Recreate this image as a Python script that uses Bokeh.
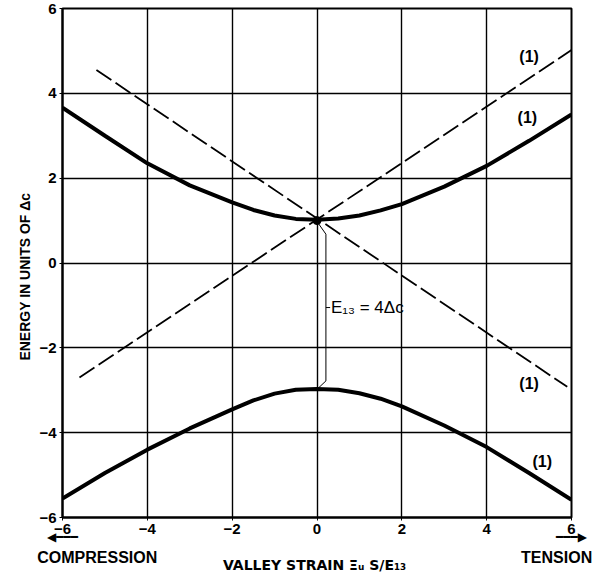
from bokeh.plotting import figure
from bokeh.models import Range1d, FixedTicker, Label, LinearAxis
from bokeh.embed import file_html
from bokeh.resources import INLINE

# ---- data ----
strain = [-6, -5, -4, -3, -2, -1.5, -1, -0.5, 0, 0.5, 1, 1.5, 2, 3, 4, 5, 6]
upper_level = [3.66, 3.0, 2.35, 1.83, 1.43, 1.25, 1.12, 1.04, 1.02, 1.05, 1.12, 1.24, 1.39, 1.80, 2.29, 2.88, 3.50]
lower_level = [-5.55, -4.95, -4.40, -3.90, -3.45, -3.24, -3.08, -2.99, -2.97, -2.99, -3.07, -3.20, -3.38, -3.83, -4.34, -4.95, -5.58]

falling_x = [-5.2, 5.9]
falling_y = [4.55, -2.92]
rising_x = [-5.6, 6.0]
rising_y = [-2.70, 5.02]

crossing_x = [0]
crossing_y = [1.0]

bracket_x = [0.02, 0.21, 0.21, 0.03]
bracket_y = [0.95, 0.68, -2.78, -2.95]
bracket_tick_x = [0.21, 0.31]
bracket_tick_y = [-1.05, -1.05]

tick_values = [-6, -4, -2, 0, 2, 4, 6]

mult_text = ["(1)", "(1)", "(1)", "(1)"]
mult_x = [5.0, 4.96, 5.0, 5.31]
mult_y = [4.88, 3.42, -2.85, -4.68]

arrow_pos = [-6.0, 6.0]
arrow_text = ["◀━━━", "━━━▶"]
caption_pos = [-5.18, 5.65]
caption_text = ["COMPRESSION", "TENSION"]
x_title = "VALLEY STRAIN  Ξᵤ S/E₁₃"
y_title = "ENERGY IN UNITS OF Δᴄ" + "\u00a0" * 7

FONT = "Liberation Sans"

p = figure(width=596, height=575, output_backend="svg", toolbar_location=None,
           x_range=Range1d(-6, 6), y_range=Range1d(-6, 6),
           min_border_left=62, min_border_right=25, min_border_top=8, min_border_bottom=10)

p.background_fill_color = "white"
p.border_fill_color = "white"
p.outline_line_color = "black"
p.outline_line_width = 2

for ax in (p.xaxis, p.yaxis):
    ax.ticker = FixedTicker(ticks=tick_values)
    ax.axis_line_color = "black"
    ax.axis_line_width = 2
    ax.major_tick_in = 0
    ax.major_tick_out = 3
    ax.major_tick_line_color = "black"
    ax.minor_tick_line_color = None
    ax.major_label_text_font = FONT
    ax.major_label_text_font_style = "bold"
    ax.major_label_text_font_size = "15px"
    ax.major_label_text_color = "black"
    ax.major_label_standoff = 3

p.yaxis.axis_label = y_title
p.yaxis.axis_label_text_font = FONT
p.yaxis.axis_label_text_font_style = "bold"
p.yaxis.axis_label_text_font_size = "14px"
p.yaxis.axis_label_text_color = "black"
p.yaxis.axis_label_standoff = 3

# extra rows below the x axis: arrows, then captions + title
arrow_axis = LinearAxis(ticker=FixedTicker(ticks=arrow_pos),
                        major_label_overrides={v: t for v, t in zip(arrow_pos, arrow_text)})
caption_axis = LinearAxis(ticker=FixedTicker(ticks=caption_pos),
                          major_label_overrides={v: t for v, t in zip(caption_pos, caption_text)})
for ax, font, size, stand in ((arrow_axis, "DejaVu Sans", "12px", -7),
                              (caption_axis, FONT, "16px", 2)):
    ax.axis_line_color = None
    ax.major_tick_line_color = None
    ax.minor_tick_line_color = None
    ax.major_tick_in = 0
    ax.major_tick_out = 0
    ax.major_label_standoff = stand
    ax.major_label_text_font = font
    ax.major_label_text_font_style = "bold"
    ax.major_label_text_font_size = size
    ax.major_label_text_color = "black"
caption_axis.axis_label = x_title
caption_axis.axis_label_text_font = "DejaVu Sans"
caption_axis.axis_label_text_font_style = "bold"
caption_axis.axis_label_text_font_size = "14px"
caption_axis.axis_label_text_color = "black"
caption_axis.axis_label_standoff = -12
p.add_layout(arrow_axis, "below")
p.add_layout(caption_axis, "below")

for g in (p.xgrid, p.ygrid):
    g.ticker = FixedTicker(ticks=tick_values)
    g.grid_line_color = "black"
    g.grid_line_width = 1.4
    g.grid_line_alpha = 1.0

# curves
p.line(strain, upper_level, line_color="black", line_width=4)
p.line(strain, lower_level, line_color="black", line_width=4)
p.line(falling_x, falling_y, line_color="black", line_width=1.8, line_dash="18 5")
p.line(rising_x, rising_y, line_color="black", line_width=1.8, line_dash="18 5")
p.scatter(crossing_x, crossing_y, size=8, color="black")

# bracket E13
p.line(bracket_x, bracket_y, line_color="black", line_width=1)
p.line(bracket_tick_x, bracket_tick_y, line_color="black", line_width=1)
p.add_layout(Label(x=0.33, y=-1.05, text="E₁₃ = 4Δᴄ", text_font=FONT,
                   text_font_size="17px", text_baseline="middle", text_color="black"))

# multiplicity labels
for t, xx, yy in zip(mult_text, mult_x, mult_y):
    p.add_layout(Label(x=xx, y=yy, text=t, text_font=FONT, text_font_style="bold",
                       text_font_size="16px", text_align="center", text_baseline="middle",
                       text_color="black"))

open("out.html", "w").write(file_html(p, INLINE))
